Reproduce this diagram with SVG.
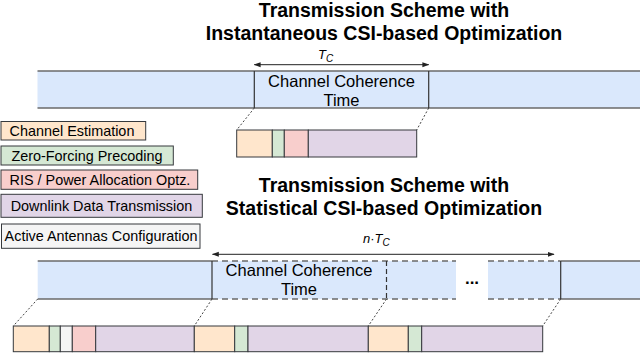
<svg xmlns="http://www.w3.org/2000/svg" width="640" height="353" viewBox="0 0 640 353">
<defs>
<marker id="ah" viewBox="0 0 10 10" refX="9" refY="5" markerWidth="7" markerHeight="7" orient="auto-start-reverse" markerUnits="userSpaceOnUse">
<path d="M0,1.5 L10,5 L0,8.5 Z" fill="#222"/>
</marker>
<style>
.t{font-family:"Liberation Sans",Arial,sans-serif;fill:#000}
.title{font-size:19.5px;font-weight:bold;text-anchor:middle}
.leg{font-size:14.4px;text-anchor:middle}
.cc{font-size:16.5px;text-anchor:middle}
.bar{fill:#dae8fc;stroke:none}
.edge{stroke:#6a6a6a;stroke-width:1.6;fill:none}
.dedge{stroke:#6a6a6a;stroke-width:1.4;fill:none;stroke-dasharray:6 4}
.vl{stroke:#333;stroke-width:1.2;fill:none}
.dvl{stroke:#333;stroke-width:1.2;fill:none;stroke-dasharray:5 3}
.seg{stroke:#36393d;stroke-width:1}
.ce{fill:#ffe6cc}.zf{fill:#d5e8d4}.ris{fill:#f8cecc}.dl{fill:#e1d5e7}.aa{fill:#f5f5f5}
.dot{stroke:#444;stroke-width:1;stroke-dasharray:2 2;fill:none}
.arr{stroke:#222;stroke-width:1;fill:none;marker-start:url(#ah);marker-end:url(#ah)}
</style>
</defs>

<g id="title-instantaneous">
<text class="t title" x="384" y="17">Transmission Scheme with</text>
<text class="t title" x="384" y="40">Instantaneous CSI-based Optimization</text>
</g>

<g id="timeline-instantaneous">
<rect class="bar" x="37.5" y="71" width="602.5" height="37"/>
<line class="edge" x1="37.5" y1="71" x2="640" y2="71"/>
<line class="edge" x1="37.5" y1="108" x2="640" y2="108"/>
<line class="vl" x1="254.3" y1="71" x2="254.3" y2="108"/>
<line class="vl" x1="428.7" y1="71" x2="428.7" y2="108"/>
<text class="t cc" x="341.5" y="87">Channel Coherence</text>
<text class="t cc" x="341.5" y="105.5">Time</text>
</g>

<g id="label-tc">
<text class="t" x="318" y="59" style="font-size:13px;font-style:italic">T<tspan dy="3" style="font-size:10px">C</tspan></text>
</g>

<g id="slot-instantaneous">
<rect class="seg ce" x="236.7" y="130" width="35.6" height="27"/>
<rect class="seg zf" x="272.3" y="130" width="12" height="27"/>
<rect class="seg ris" x="284.3" y="130" width="24" height="27"/>
<rect class="seg dl" x="308.3" y="130" width="108.4" height="27"/>
</g>

<g id="legend-channel-estimation">
<rect class="seg ce" x="1" y="121.5" width="144.7" height="18.5"/>
<text class="t leg" x="72" y="135.5">Channel Estimation</text>
</g>
<g id="legend-zero-forcing">
<rect class="seg zf" x="1" y="146" width="172.3" height="19"/>
<text class="t leg" x="87" y="160.5">Zero-Forcing Precoding</text>
</g>
<g id="legend-ris">
<rect class="seg ris" x="1" y="170" width="196.7" height="19.3"/>
<text class="t leg" x="100" y="185">RIS / Power Allocation Optz.</text>
</g>
<g id="legend-downlink">
<rect class="seg dl" x="1" y="194.3" width="201.3" height="23"/>
<text class="t leg" x="101.5" y="211">Downlink Data Transmission</text>
</g>
<g id="legend-active-antennas">
<rect class="seg aa" x="1.5" y="224" width="198.5" height="24.3"/>
<text class="t leg" x="101" y="241">Active Antennas Configuration</text>
</g>

<g id="title-statistical">
<text class="t title" x="384" y="192">Transmission Scheme with</text>
<text class="t title" x="384" y="215">Statistical CSI-based Optimization</text>
</g>

<g id="label-ntc">
<text class="t" x="363" y="243" style="font-size:13px;font-style:italic">n<tspan font-style="normal">·</tspan>T<tspan dy="3" style="font-size:10px">C</tspan></text>
</g>

<g id="timeline-statistical">
<rect class="bar" x="37.7" y="261" width="418.3" height="38"/>
<rect class="bar" x="488" y="261" width="152" height="38"/>
<line class="edge" x1="37.7" y1="261" x2="212" y2="261"/>
<line class="edge" x1="37.7" y1="299" x2="212" y2="299"/>
<line class="dedge" x1="212" y1="261" x2="456" y2="261"/>
<line class="dedge" x1="212" y1="299" x2="456" y2="299"/>
<line class="dedge" x1="488" y1="261" x2="560.7" y2="261"/>
<line class="dedge" x1="488" y1="299" x2="560.7" y2="299"/>
<line class="edge" x1="560.7" y1="261" x2="640" y2="261"/>
<line class="edge" x1="560.7" y1="299" x2="640" y2="299"/>
<line class="vl" x1="212" y1="261" x2="212" y2="299"/>
<line class="dvl" x1="386.5" y1="261" x2="386.5" y2="299"/>
<line class="vl" x1="560.7" y1="261" x2="560.7" y2="299"/>
<text class="t cc" x="299" y="275.5">Channel Coherence</text>
<text class="t cc" x="299" y="295">Time</text>
<text class="t" x="472" y="283.5" style="font-size:17px;font-weight:bold;text-anchor:middle">...</text>
</g>

<g id="slots-statistical">
<rect class="seg ce" x="13.3" y="326" width="36" height="25.7"/>
<rect class="seg zf" x="49.3" y="326" width="11" height="25.7"/>
<rect class="seg aa" x="60.3" y="326" width="12" height="25.7"/>
<rect class="seg ris" x="72.3" y="326" width="23.4" height="25.7"/>
<rect class="seg dl" x="95.7" y="326" width="98.6" height="25.7"/>
<rect class="seg ce" x="194.3" y="326" width="40.4" height="25.7"/>
<rect class="seg zf" x="234.7" y="326" width="13.3" height="25.7"/>
<rect class="seg dl" x="248" y="326" width="120.3" height="25.7"/>
<rect class="seg ce" x="368.3" y="326" width="40" height="25.7"/>
<rect class="seg zf" x="408.3" y="326" width="13.4" height="25.7"/>
<rect class="seg dl" x="421.7" y="326" width="121" height="25.7"/>
</g>

<g id="connectors">
<line class="arr" x1="254.3" y1="64.7" x2="428.7" y2="64.7"/>
<line class="arr" x1="212.5" y1="254.3" x2="554" y2="254.3"/>
<line class="dot" x1="254.3" y1="108" x2="236.7" y2="130"/>
<line class="dot" x1="428.7" y1="108" x2="416.7" y2="130"/>
<line class="dot" x1="37.7" y1="299" x2="13.3" y2="326"/>
<line class="dot" x1="212" y1="299" x2="194.3" y2="326"/>
<line class="dot" x1="386.5" y1="299" x2="368.3" y2="326"/>
<line class="dot" x1="560.7" y1="299" x2="542.7" y2="326"/>
</g>
</svg>
